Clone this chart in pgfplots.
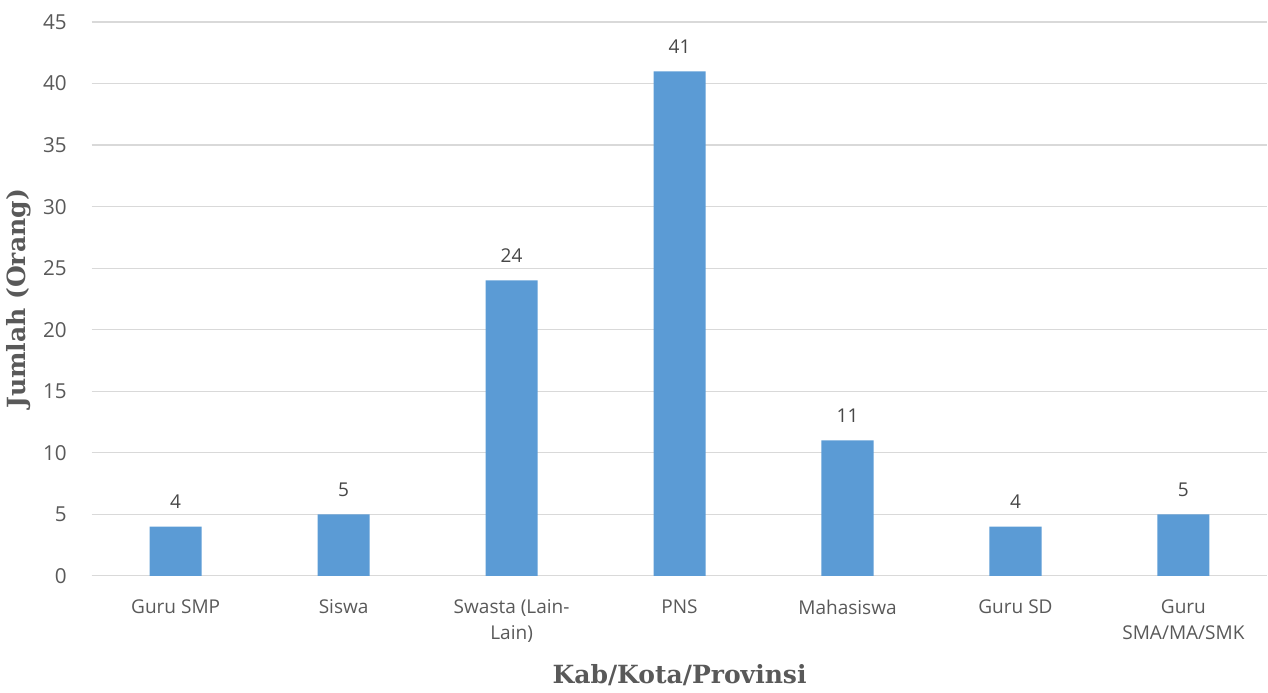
\documentclass[border=0pt]{standalone}
\usepackage{pgfplots}
\pgfplotsset{compat=1.18}
\usepackage{fontspec}
\setmainfont{Open Sans}
\newfontfamily\slab{DejaVu Serif}
\definecolor{barblue}{HTML}{5B9BD5}
\definecolor{gridgray}{HTML}{D9D9D9}
\definecolor{txt}{HTML}{595959}
\begin{document}
\begin{tikzpicture}
\begin{axis}[
    scale only axis,
    width=587pt, height=276.5pt,
    ybar, bar width=26pt,
    xmin=-0.5, xmax=6.5,
    ymin=0, ymax=45,
    ytick={0,5,...,45},
    xtick=data,
    xticklabels={Guru SMP,Siswa,Swasta (Lain-\\Lain),PNS,Mahasiswa,Guru SD,Guru\\SMA/MA/SMK},
    xticklabel style={align=center, font=\fontsize{9.5}{13}\selectfont, text=txt, yshift=-8.5pt},
    yticklabel style={font=\fontsize{10.3}{12}\selectfont, text=txt, xshift=-9pt},
    /pgf/number format/assume math mode=true,
    major tick length=0pt,
    ymajorgrids, grid style={gridgray, line width=0.6pt},
    axis x line*=bottom, axis y line*=left,
    x axis line style={gridgray, line width=0.6pt, -},
    y axis line style={draw=none},
    xlabel={\slab\bfseries Kab/Kota/Provinsi},
    ylabel={\slab\bfseries Jumlah (Orang)},
    xlabel style={font=\fontsize{12.5}{14}\selectfont, text=txt, yshift=-4pt},
    ylabel style={font=\fontsize{12.5}{14}\selectfont, text=txt, yshift=-1pt},
    nodes near coords,
    nodes near coords style={font=\fontsize{9.5}{12}\selectfont, text=txt!80!black, yshift=5.5pt},
    clip=false,
]
\addplot[fill=barblue, draw=none] coordinates {(0,4) (1,5) (2,24) (3,41) (4,11) (5,4) (6,5)};
\end{axis}
\path (current axis.north) ++(0,11pt);
\path (current axis.south) ++(0,-54pt);
\end{tikzpicture}
\end{document}
